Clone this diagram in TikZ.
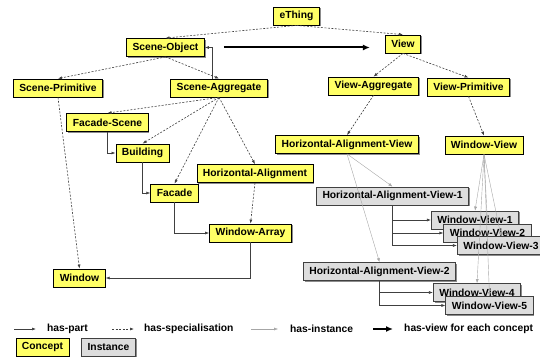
\documentclass[tikz,border=0pt]{standalone}
\usepackage{fontspec}
\setmainfont{Liberation Sans}
\usepackage{xcolor}
\usepackage{tikz}
\usetikzlibrary{positioning,calc,shadows,arrows.meta}

\definecolor{conceptyellow}{RGB}{255,255,102}
\definecolor{instancegray}{RGB}{221,221,221}
\definecolor{linegray}{RGB}{64,64,64}

\tikzset{
  box/.style={draw, line width=0.8pt, inner xsep=6pt, inner ysep=0pt, minimum height=18pt,
    font=\bfseries\fontsize{10.3}{12}\selectfont,
    drop shadow={shadow xshift=1.2pt, shadow yshift=-1.2pt, fill=black!45, opacity=1}},
  concept/.style={box, fill=conceptyellow},
  instance/.style={box, fill=instancegray, draw=linegray},
  haspart/.style={draw=linegray, line width=0.6pt, -{Latex[length=4pt,width=3pt]}},
  hasspec/.style={draw=linegray, line width=0.6pt, dash pattern=on 2pt off 1.5pt, -{Latex[length=4pt,width=3pt]}},
  hasinst/.style={draw=gray!70, line width=0.4pt, -{Latex[length=4pt,width=3pt]}},
  hasview/.style={draw=black, line width=2pt, -{Latex[length=7pt,width=6pt]}},
  legtext/.style={anchor=west, inner sep=0pt, font=\bfseries\fontsize{10.3}{12}\selectfont}
}

\begin{document}
\begin{tikzpicture}[x=1pt, y=-1pt]
    \useasboundingbox (0,0) rectangle (540,358);

    % Concepts
    \node[concept] (ething) at (296.5,16) {eThing};
    \node[concept] (sobj) at (165.5,47.5) {Scene-Object};
    \node[concept] (view) at (403,44) {View};
    \node[concept] (sprim) at (58,88) {Scene-Primitive};
    \node[concept] (sagg) at (219,88) {Scene-Aggregate};
    \node[concept] (vagg) at (373.5,86) {View-Aggregate};
    \node[concept] (vprim) at (468.5,87) {View-Primitive};
    \node[concept] (fscene) at (107.5,122.5) {Facade-Scene};
    \node[concept] (build) at (142.5,153) {Building};
    \node[concept] (halign) at (255,173.5) {Horizontal-Alignment};
    \node[concept] (hav) at (347,144.5) {Horizontal-Alignment-View};
    \node[concept] (wview) at (484,145) {Window-View};
    \node[concept] (facade) at (174.5,193) {Facade};
    \node[concept] (warray) at (250.5,233) {Window-Array};
    \node[concept] (win) at (79.5,278) {Window};

    % Instances
    \node[instance] (hav1) at (392.5,196) {Horizontal-Alignment-View-1};
    \node[instance] (wv1) at (475,220) {Window-View-1};
    \node[instance] (wv2) at (487.5,233) {Window-View-2};
    \node[instance] (wv3) at (501,245.5) {Window-View-3};
    \node[instance] (hav2) at (379.5,271.5) {Horizontal-Alignment-View-2};
    \node[instance] (wv4) at (477,292.5) {Window-View-4};
    \node[instance] (wv5) at (489.5,305.5) {Window-View-5};

    % Specialisations
    \draw[hasspec] (ething.south) -- (sobj.north);
    \draw[hasspec] (ething.south) -- (view.north);
    \draw[hasspec] (sobj.south) -- (sprim.north);
    \draw[hasspec] (sobj.south) -- (sagg.north);
    \foreach \t in {fscene,build,facade,halign} \draw[hasspec] (sagg.south) -- (\t.north);
    \draw[hasspec] (sprim.south) -- (win.north);
    \draw[hasspec] (halign.south) -- (warray.north);
    \draw[hasspec] (view.south) -- (vagg.north);
    \draw[hasspec] (view.south) -- (vprim.north);
    \draw[hasspec] (vagg.south) -- (hav.north);
    \draw[hasspec] (vprim.south) -- (wview.north);

    % Parts
    \draw[haspart] ([xshift=-7pt]sagg.north) |- (sobj.east);
    \draw[haspart] (fscene.south) |- (build.west);
    \draw[haspart] (build.south) |- (facade.west);
    \draw[haspart] (facade.south) |- (warray.west);
    \draw[haspart] (warray.south) |- (win.east);
    \foreach \i in {1,2,3} \draw[haspart] (hav1.south) |- (wv\i.west);
    \foreach \i in {4,5} \draw[haspart] (hav2.south) |- (wv\i.west);

    % Instances of
    \draw[hasinst] (hav.south) -- (hav1.north);
    \draw[hasinst] (hav.south) -- (hav2.north);
    \foreach \i in {1,...,5} \draw[hasinst] (wview.south) -- (wv\i.north);

    % View for each concept
    \coordinate (hvstart) at ($(sobj.east)+(19,0)$);
    \coordinate (hvend) at ($(sobj.east -| view.west)+(-15,0)$);
    \draw[hasview] (hvstart) -- (hvend);

    % Legend
    \coordinate (lpa) at (14,329);   \coordinate (lpb) at (36,329);
    \coordinate (lsa) at (112,329);  \coordinate (lsb) at (134,329);
    \coordinate (lia) at (251,329);  \coordinate (lib) at (278,329);
    \coordinate (lva) at (373,329);  \coordinate (lvb) at (393,329);
    \draw[haspart] (lpa) -- (lpb);
    \draw[hasspec] (lsa) -- (lsb);
    \draw[hasinst] (lia) -- (lib);
    \draw[hasview] (lva) -- (lvb);
    \node[legtext] (lpart) at (47,329) {has-part};
    \node[legtext] (lspec) at (144,329) {has-specialisation};
    \node[legtext] (linst) at (290,329) {has-instance};
    \node[legtext] (lview) at (404,329) {has-view for each concept};
    \node[concept] (lconcept) at (42.5,347) {Concept};
    \node[instance] (linstance) at (108.5,347) {Instance};
\end{tikzpicture}
\end{document}
